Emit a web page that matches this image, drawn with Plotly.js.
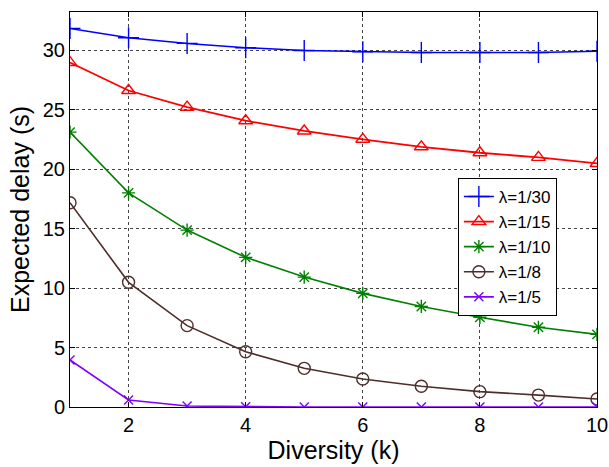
<!DOCTYPE html>
<html><head><meta charset="utf-8">
<script src="https://cdn.plot.ly/plotly-3.0.1.min.js"></script>
<style>html,body{margin:0;padding:0;background:#fff}</style>
</head><body>
<div id="chart" style="width:609px;height:467px"></div>
<script>
const diversity = [1,2,3,4,5,6,7,8,9,10];
const seriesNames = ["λ=1/30","λ=1/15","λ=1/10","λ=1/8","λ=1/5"];
const lambda30 = [31.82,31.03,30.56,30.2,29.97,29.86,29.8,29.8,29.8,29.9];
const lambda15 = [28.95,26.6,25.2,24.06,23.2,22.5,21.87,21.37,20.98,20.47];
const lambda10 = [23.1,18.0,14.87,12.58,10.92,9.55,8.45,7.54,6.7,6.1];
const lambda8  = [17.17,10.48,6.84,4.65,3.25,2.35,1.74,1.29,1.0,0.67];
const lambda5  = [3.95,0.59,0.08,0.02,0.0,0.0,0.0,0.0,0.0,0.0];
const xTicks = [2,4,6,8,10];
const yTicks = [0,5,10,15,20,25,30];

const styles = [
  {color:"#0000ff", symbol:"cross-thin-open", size:15, width:1.5},
  {color:"#ff0000", symbol:"triangle-up-open", size:12, width:1.8},
  {color:"#008000", symbol:"asterisk-open", size:11, width:1.6},
  {color:"#4d2e2b", symbol:"circle-open", size:12, width:1.6},
  {color:"#7f00ff", symbol:"x-thin-open", size:9, width:1.6}
];
const allY = [lambda30, lambda15, lambda10, lambda8, lambda5];
const traces = allY.map((ys,i)=>({
  x: diversity, y: ys, name: seriesNames[i], type:"scatter", mode:"lines+markers",
  line:{color:styles[i].color, width:styles[i].width},
  marker:{symbol:styles[i].symbol, size:styles[i].size, color:styles[i].color, line:{color:styles[i].color, width:1.4}}
}));
const font = "Liberation Sans, Arial, sans-serif";
const layout = {
  width:609, height:467,
  margin:{l:70, r:12, t:12, b:60},
  paper_bgcolor:"#fff", plot_bgcolor:"#fff",
  font:{family:font, color:"#000"},
  showlegend:true,
  legend:{x:0.736, y:0.58, xanchor:"left", yanchor:"top", bgcolor:"#fff", bordercolor:"#000", borderwidth:1,
    font:{family:font, size:17}, tracegroupgap:0},
  xaxis:{range:[1,10], tickvals:xTicks, ticktext:xTicks.map(String), ticks:"inside", ticklen:5, tickcolor:"#000",
    showline:true, linecolor:"#000", linewidth:1, mirror:"ticks", zeroline:false,
    showgrid:true, gridcolor:"#444", griddash:"dot", gridwidth:1,
    tickfont:{size:20, family:font}, title:{text:"Diversity (k)", font:{size:25, family:font}, standoff:2}},
  yaxis:{range:[0,33.2], tickvals:yTicks, ticktext:yTicks.map(String), ticks:"inside", ticklen:5, tickcolor:"#000",
    showline:true, linecolor:"#000", linewidth:1, mirror:"ticks", zeroline:false,
    showgrid:true, gridcolor:"#444", griddash:"dot", gridwidth:1,
    tickfont:{size:20, family:font}, title:{text:"Expected delay (s)", font:{size:25, family:font}, standoff:6}}
};
Plotly.newPlot("chart", traces, layout, {displayModeBar:false, staticPlot:true});
</script>
</body></html>
